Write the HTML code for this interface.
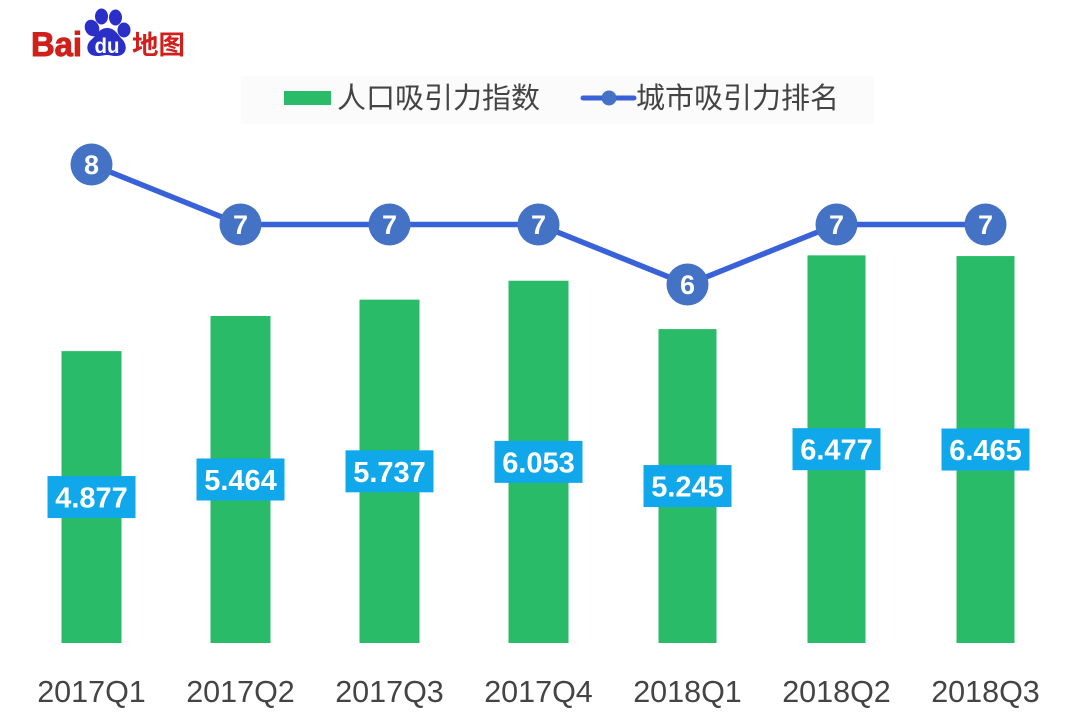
<!DOCTYPE html>
<html>
<head>
<meta charset="utf-8">
<title>人口吸引力指数与城市吸引力排名</title>
<style>
html,body{margin:0;padding:0;background:#fff;width:1080px;height:726px;overflow:hidden}
svg{display:block}
text{font-family:"Liberation Sans","Noto Sans CJK SC",sans-serif}
</style>
</head>
<body>
<svg id="chart" xmlns="http://www.w3.org/2000/svg" width="1080" height="726" viewBox="0 0 1080 726">
  <rect x="0" y="0" width="1080" height="726" fill="#ffffff"/>
  <g>
    <text x="31" y="56" font-size="34" font-weight="700" fill="#d0201c" stroke="#d0201c" stroke-width="1" textLength="51" lengthAdjust="spacingAndGlyphs">Bai</text>
    <ellipse cx="92" cy="28" rx="7" ry="8.500" fill="#2a2fc8" transform="rotate(-25 92 28)"/>
    <ellipse cx="101.500" cy="16.500" rx="6.500" ry="8" fill="#2a2fc8"/>
    <ellipse cx="115.500" cy="17.500" rx="6.500" ry="8" fill="#2a2fc8"/>
    <ellipse cx="124" cy="30" rx="6.500" ry="7.500" fill="#2a2fc8"/>
    <path d="M107 28 C114 28 117 33 121 38 C128 44 128 56 116 56 C111 56 110 55 107 55 C104 55 102 56 97 56 C86 56 85 45 91 40 C96 36 99 28 107 28 Z" fill="#2a2fc8"/>
    <text x="94.500" y="53" font-size="21" font-weight="700" fill="#ffffff" textLength="25" lengthAdjust="spacingAndGlyphs">du</text>
    <text x="132" y="54" font-size="26" font-weight="700" fill="#d0201c" textLength="53" lengthAdjust="spacingAndGlyphs">地图</text>
  </g>
  <g>
    <rect x="241" y="76" width="633" height="48" fill="#fbfbfb"/>
    <rect x="284" y="91" width="47" height="14" fill="#2abb69"/>
    <text x="337" y="108" font-size="29" fill="#444444">人口吸引力指数</text>
    <line x1="583" y1="98" x2="634" y2="98" stroke="#3a62d8" stroke-width="5" stroke-linecap="round"/>
    <circle cx="609" cy="98" r="7.500" fill="#4472c4"/>
    <text x="636" y="108" font-size="29" fill="#444444">城市吸引力排名</text>
  </g>
  <g id="bars"></g>
  <g id="labels"></g>
  <g id="line"></g>
  <g id="xaxis"></g>
</svg>
<script>
const categories = ["2017Q1","2017Q2","2017Q3","2017Q4","2018Q1","2018Q2","2018Q3"];
const indexValues = [4.877,5.464,5.737,6.053,5.245,6.477,6.465];
const rankValues = [8,7,7,7,6,7,7];

const NS = 'http://www.w3.org/2000/svg';
function xScale(i){ return 91.5 + i * 149; }
function yIndex(v){ return 643 - v * 59.85; }
function yRank(r){ return 224.5 + (7 - r) * 60; }
function barWidth(i){ return i < 4 ? 60 : 58; }
function make(tag, attrs, parent){
  const el = document.createElementNS(NS, tag);
  for (const k in attrs) el.setAttribute(k, attrs[k]);
  parent.appendChild(el);
  return el;
}
const barsG = document.getElementById('bars');
const labelsG = document.getElementById('labels');
const lineG = document.getElementById('line');
const xG = document.getElementById('xaxis');

categories.forEach(function(cat, i){
  const x = xScale(i);
  const top = yIndex(indexValues[i]);
  const w = barWidth(i);
  const bar = make('rect', {x: x - w / 2, y: top, width: w, height: 643 - top, fill: '#2abb69'}, barsG);
  
  

  const mid = (top + 643) / 2;
  const box = make('rect', {x: x - 44, y: mid - 21, width: 88, height: 42, fill: '#10a8ea'}, labelsG);
  
  
  const txt = make('text', {x: x, y: mid + 10.5, 'font-size': 29, 'font-weight': 700, fill: '#ffffff', 'text-anchor': 'middle'}, labelsG);
  
  
  txt.textContent = indexValues[i].toFixed(3);

  const tick = make('text', {x: x, y: 702, 'font-size': 30.5, fill: '#444444', 'text-anchor': 'middle'}, xG);
  
  
  tick.textContent = cat;
});

const pts = rankValues.map(function(r, i){ return xScale(i) + ',' + yRank(r); }).join(' ');
const poly = make('polyline', {points: pts, fill: 'none', stroke: '#3a62d8', 'stroke-width': 5.5}, lineG);



rankValues.forEach(function(r, i){
  const c = make('circle', {cx: xScale(i), cy: yRank(r), r: 21, fill: '#4472c4'}, lineG);
  
  
  const t = make('text', {x: xScale(i), y: yRank(r) + 9.5, 'font-size': 27, 'font-weight': 700, fill: '#ffffff', 'text-anchor': 'middle'}, lineG);
  
  
  t.textContent = r;
});
</script>
</body>
</html>
